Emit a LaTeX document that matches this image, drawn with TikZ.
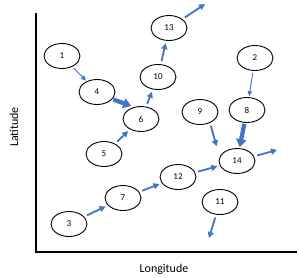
\documentclass[tikz,border=0pt]{standalone}
\usepackage{fontspec}
\setmainfont{Carlito}
\usepackage{xcolor}
\usepackage{tikz}
\usetikzlibrary{arrows.meta,shapes.geometric}
\definecolor{trackblue}{HTML}{4472C4}

\begin{document}
\begin{tikzpicture}[
  x=1pt, y=-1pt,
  font=\fontsize{9}{10}\selectfont,
  site/.style={draw, ellipse, line width=0.9pt, minimum width=36pt, minimum height=25pt, inner sep=0pt},
  move/.style={-{Triangle[length=6pt,width=6pt]}, line width=1.8pt, trackblue, shorten <=3pt, shorten >=2.5pt},
  weak/.style={move, line width=0.9pt, -{Triangle[length=5pt,width=4.5pt]}, shorten <=2pt, shorten >=1pt},
  strong/.style={move, line width=4.2pt, -{Triangle[length=8pt,width=10pt]}, shorten <=1pt, shorten >=1pt},
  axis/.style={line width=1.6pt},
  axlab/.style={font=\fontsize{12}{14}\selectfont}
]
\useasboundingbox (0,0) rectangle (299,277);

\draw[axis] (36,13) -- (36,252) -- (297,252);
\node[axlab, rotate=90] (ylab) at (14,127) {Latitude};
\node[axlab] (xlab) at (164,269) {Longitude};

\node[site] (n1) at (62,56) {1};
\node[site] (n2) at (255,58) {2};
\node[site] (n3) at (69,224) {3};
\node[site] (n4) at (97,92) {4};
\node[site] (n5) at (104,154) {5};
\node[site] (n6) at (141,119) {6};
\node[site] (n7) at (123,198) {7};
\node[site] (n8) at (247,110) {8};
\node[site] (n9) at (200,112) {9};
\node[site] (n10) at (158,77) {10};
\node[site] (n11) at (220,202) {11};
\node[site] (n12) at (178,177) {12};
\node[site] (n13) at (169,28) {13};
\node[site] (n14) at (237,161) {14};
\coordinate (e13) at (205,4);
\coordinate (e14) at (277,150);
\coordinate (e11) at (209,238);

\draw[weak] (n1) -- (n4);
\draw[strong, shorten >=3pt] (n4.-25) -- (n6.120);
\draw[move] (n5) -- (n6);
\draw[move] (n6) -- (n10);
\draw[move] (n10) -- (n13);
\draw[move, shorten >=0pt] (n13) -- (e13);
\draw[weak] (n2) -- (n8);
\draw[strong] (n8) -- (n14);
\draw[move, shorten >=11pt] (n9.-47) -- (n14.167);
\draw[move, shorten >=0pt] (n14) -- (e14);
\draw[move] (n3) -- (n7);
\draw[move] (n7) -- (n12);
\draw[move] (n12) -- (n14);
\draw[move, shorten >=0pt] (n11) -- (e11);
\end{tikzpicture}
\end{document}
